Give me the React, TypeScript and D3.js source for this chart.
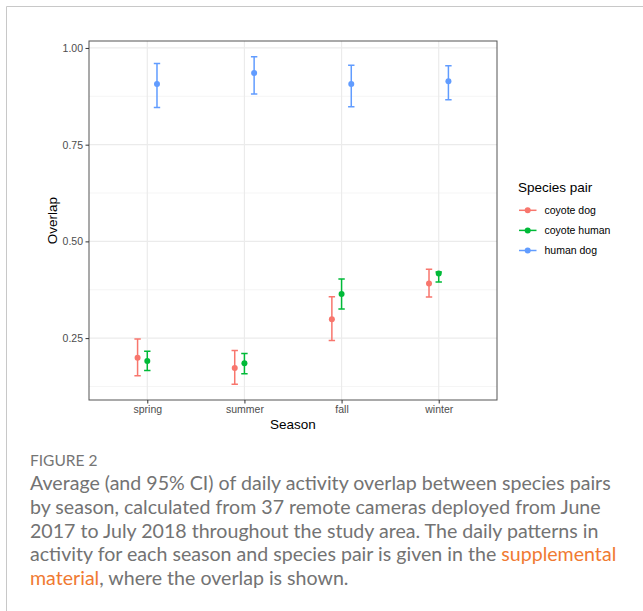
import { useRef, useEffect } from "react";
import * as d3 from "d3";

const seasons = ["spring", "summer", "fall", "winter"];
const pairs = ["coyote dog", "coyote human", "human dog"];
const colors = ["#F8766D", "#00BA38", "#619CFF"];

// mean, lower and upper 95% CI per pair, in season order
const meanValues = [
  [0.199, 0.173, 0.299, 0.391],
  [0.191, 0.185, 0.364, 0.417],
  [0.907, 0.935, 0.907, 0.914],
];
const lowerValues = [
  [0.153, 0.131, 0.244, 0.356],
  [0.166, 0.158, 0.325, 0.395],
  [0.846, 0.881, 0.848, 0.866],
];
const upperValues = [
  [0.248, 0.218, 0.357, 0.428],
  [0.216, 0.21, 0.403, 0.421],
  [0.96, 0.977, 0.955, 0.954],
];

const yTicks = [0.25, 0.5, 0.75, 1.0];
const yMinor = [0.125, 0.375, 0.625, 0.875];

const captionLabel = "FIGURE 2";
const captionLines = [
  [["Average (and 95% CI) of daily activity overlap between species pairs", false]],
  [["by season, calculated from 37 remote cameras deployed from June", false]],
  [["2017 to July 2018 throughout the study area. The daily patterns in", false]],
  [
    ["activity for each season and species pair is given in the ", false],
    ["supplemental", true],
  ],
  [
    ["material", true],
    [", where the overlap is shown.", false],
  ],
];

const App = () => {
  const svgRef = useRef(null);

  useEffect(() => {
    const svg = d3.select(svgRef.current);
    svg.selectAll("*").remove();

    const panel = { left: 89, right: 497, top: 41, bottom: 400 };
    const font = "Liberation Sans, Arial, sans-serif";

    // card border
    svg
      .append("path")
      .attr("d", "M6.5,700 V6.5 H700")
      .attr("fill", "none")
      .attr("stroke", "#c8c8c8")
      .attr("stroke-width", 1);

    const x = d3
      .scalePoint()
      .domain(seasons)
      .range([panel.left, panel.right])
      .padding(0.6);
    const dodge = d3.scalePoint().domain(pairs).range([-9.7, 9.7]);
    const y = d3
      .scaleLinear()
      .domain([0.09, 1.018])
      .range([panel.bottom, panel.top]);

    const g = svg.append("g");

    // grid
    g.selectAll(".minor")
      .data(yMinor)
      .join("line")
      .attr("x1", panel.left)
      .attr("x2", panel.right)
      .attr("y1", (d) => y(d))
      .attr("y2", (d) => y(d))
      .attr("stroke", "#f2f2f2")
      .attr("stroke-width", 0.8);
    g.selectAll(".major")
      .data(yTicks)
      .join("line")
      .attr("x1", panel.left)
      .attr("x2", panel.right)
      .attr("y1", (d) => y(d))
      .attr("y2", (d) => y(d))
      .attr("stroke", "#ebebeb")
      .attr("stroke-width", 1.2);
    g.selectAll(".xgrid")
      .data(seasons)
      .join("line")
      .attr("x1", (d) => x(d))
      .attr("x2", (d) => x(d))
      .attr("y1", panel.top)
      .attr("y2", panel.bottom)
      .attr("stroke", "#ebebeb")
      .attr("stroke-width", 1.2);

    // error bars and points
    pairs.forEach((p, i) => {
      const grp = g.append("g");
      seasons.forEach((s, j) => {
        const cx = x(s) + dodge(p);
        const lo = y(lowerValues[i][j]);
        const hi = y(upperValues[i][j]);
        grp
          .append("path")
          .attr(
            "d",
            `M${cx - 3.2},${hi}H${cx + 3.2}M${cx},${hi}V${lo}M${cx - 3.2},${lo}H${cx + 3.2}`
          )
          .attr("fill", "none")
          .attr("stroke", colors[i])
          .attr("stroke-width", 1.5);
        grp
          .append("circle")
          .attr("cx", cx)
          .attr("cy", y(meanValues[i][j]))
          .attr("r", 3)
          .attr("fill", colors[i]);
      });
    });

    // panel border
    g.append("rect")
      .attr("x", panel.left)
      .attr("y", panel.top)
      .attr("width", panel.right - panel.left)
      .attr("height", panel.bottom - panel.top)
      .attr("fill", "none")
      .attr("stroke", "#555")
      .attr("stroke-width", 1);

    // axes
    const yAxis = svg
      .append("g")
      .attr("transform", `translate(${panel.left},0)`)
      .call(
        d3
          .axisLeft(y)
          .tickValues(yTicks)
          .tickFormat(d3.format(".2f"))
          .tickSize(3.5)
          .tickPadding(2.5)
      );
    const xAxis = svg
      .append("g")
      .attr("transform", `translate(0,${panel.bottom})`)
      .call(d3.axisBottom(x).tickSize(3.5).tickPadding(2.5));
    [yAxis, xAxis].forEach((a) => {
      a.select(".domain").remove();
      a.selectAll(".tick line").attr("stroke", "#333").attr("stroke-width", 1);
      a.selectAll(".tick text")
        .attr("fill", "#4d4d4d")
        .style("font-family", font)
        .style("font-size", "10.5px");
    });

    svg
      .append("text")
      .attr("x", (panel.left + panel.right) / 2)
      .attr("y", 429)
      .attr("text-anchor", "middle")
      .style("font-family", font)
      .style("font-size", "13.5px")
      .attr("fill", "#000")
      .text("Season");
    svg
      .append("text")
      .attr("transform", `translate(57,${(panel.top + panel.bottom) / 2}) rotate(-90)`)
      .attr("text-anchor", "middle")
      .style("font-family", font)
      .style("font-size", "13.5px")
      .attr("fill", "#000")
      .text("Overlap");

    // legend
    const legend = svg.append("g");
    legend
      .append("text")
      .attr("x", 518)
      .attr("y", 191.5)
      .style("font-family", font)
      .style("font-size", "13.5px")
      .attr("fill", "#000")
      .text("Species pair");
    pairs.forEach((p, i) => {
      const ly = 210.3 + i * 20.1;
      legend
        .append("line")
        .attr("x1", 519)
        .attr("x2", 536.5)
        .attr("y1", ly)
        .attr("y2", ly)
        .attr("stroke", colors[i])
        .attr("stroke-width", 1.5);
      legend
        .append("circle")
        .attr("cx", 527.7)
        .attr("cy", ly)
        .attr("r", 3)
        .attr("fill", colors[i]);
      legend
        .append("text")
        .attr("x", 544.5)
        .attr("y", ly + 3.8)
        .style("font-family", font)
        .style("font-size", "10.5px")
        .attr("fill", "#000")
        .text(p);
    });

    // caption
    const capFont = "Lato, 'Open Sans', sans-serif";
    svg
      .append("text")
      .attr("x", 30)
      .attr("y", 465.5)
      .style("font-family", capFont)
      .style("font-size", "15.5px")
      .attr("fill", "#757575")
      .text(captionLabel);
    captionLines.forEach((line, i) => {
      const t = svg
        .append("text")
        .attr("x", 30)
        .attr("y", 490 + i * 23.8)
        .style("font-family", capFont)
        .style("font-size", "19.6px")
        .attr("fill", "#737373");
      line.forEach(([str, link]) => {
        t.append("tspan")
          .attr("fill", link ? "#f07a32" : "#737373")
          .text(str);
      });
    });
  }, []);

  return (
    <svg
      ref={svgRef}
      width={643}
      height={611}
      style={{ position: "absolute", left: 0, top: 0, background: "#fff" }}
    ></svg>
  );
};

export default App;
